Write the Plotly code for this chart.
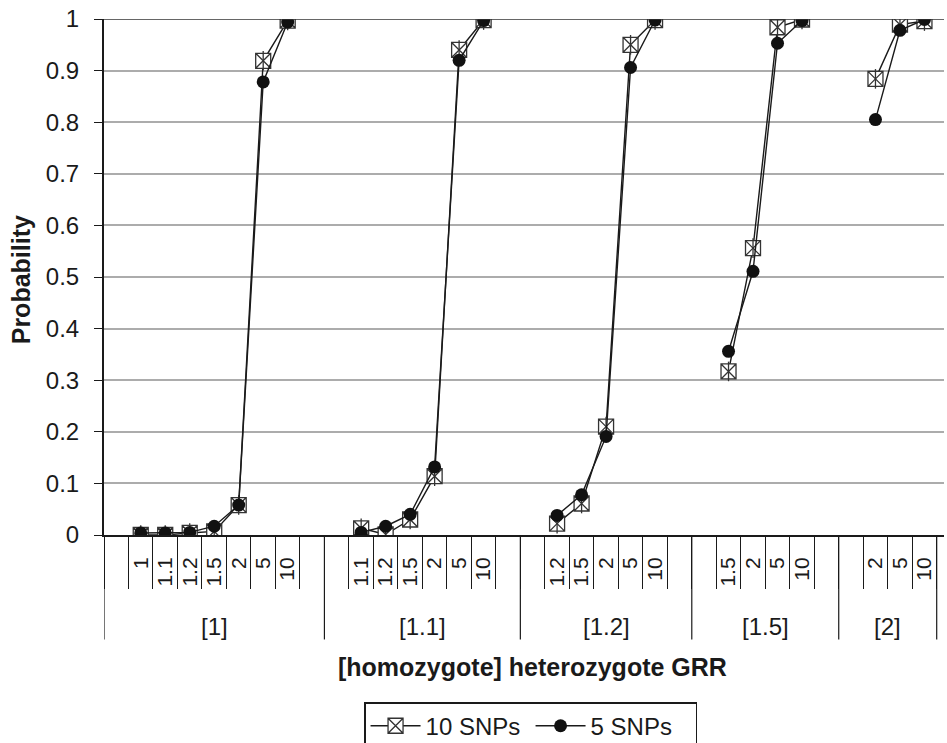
import plotly.graph_objects as go

# ---- data ----
groups = ["[1]", "[1.1]", "[1.2]", "[1.5]", "[2]"]
inner_labels = [
    ["1", "1.1", "1.2", "1.5", "2", "5", "10"],
    ["1.1", "1.2", "1.5", "2", "5", "10"],
    ["1.2", "1.5", "2", "5", "10"],
    ["1.5", "2", "5", "10"],
    ["2", "5", "10"],
]
snp10 = [
    [0.0, 0.0, 0.004, 0.007, 0.058, 0.919, 0.997],
    [0.013, 0.001, 0.03, 0.114, 0.94, 0.998],
    [0.022, 0.061, 0.21, 0.95, 0.998],
    [0.317, 0.556, 0.984, 0.999],
    [0.884, 0.989, 0.996],
]
snp5 = [
    [0.004, 0.004, 0.005, 0.017, 0.058, 0.878, 0.994],
    [0.005, 0.017, 0.04, 0.132, 0.92, 0.997],
    [0.038, 0.078, 0.191, 0.906, 0.998],
    [0.356, 0.511, 0.953, 0.997],
    [0.805, 0.978, 0.999],
]

# ---- category slot layout (blank slot before each group, after all but last) ----
tickvals, ticktext = [], []
group_bounds, group_centers = [-0.5], []
pos = 0
for gi, labs in enumerate(inner_labels):
    start = pos - 0.5
    pos += 1  # leading blank slot
    for lab in labs:
        tickvals.append(pos)
        ticktext.append(lab)
        pos += 1
    if gi < len(inner_labels) - 1:
        pos += 1  # trailing blank slot
    end = pos - 0.5
    group_bounds.append(end)
    group_centers.append((start + end) / 2)
n_slots = pos
slot_bounds = [k - 0.5 for k in range(n_slots + 1)]


def series(vals):
    x, y = [], []
    i = 0
    for gi, labs in enumerate(inner_labels):
        for j in range(len(labs)):
            x.append(tickvals[i])
            y.append(vals[gi][j])
            i += 1
        x.append(None)
        y.append(None)
    return x, y


x10, y10 = series(snp10)
x5, y5 = series(snp5)

fig = go.Figure()
fig.add_trace(go.Scatter(
    x=x10, y=y10, name="10 SNPs", mode="lines+markers", connectgaps=False,
    line=dict(color="#1a1a1a", width=1.4),
    marker=dict(symbol="square-x", size=15, color="white",
                line=dict(color="#333333", width=1.3)),
))
fig.add_trace(go.Scatter(
    x=x10, y=y10, name="10 SNPs", mode="markers", showlegend=False,
    hoverinfo="skip",
    marker=dict(symbol="line-ns", size=14, line=dict(color="#333333", width=1.3)),
))
fig.add_trace(go.Scatter(
    x=x5, y=y5, name="5 SNPs", mode="lines+markers", connectgaps=False,
    line=dict(color="#1a1a1a", width=1.4),
    marker=dict(symbol="circle", size=13, color="#111111"),
))

FONT = "Liberation Sans, Arial, sans-serif"
W, H = 947, 743
# plot-area geometry in screenshot pixels
top_px, bottom_px, left_px, right_px = 19.3, 535.5, 104.3, 944
ph = bottom_px - top_px
plot_w = right_px - left_px
slot_w = (936.7 - left_px) / n_slots
x_max = n_slots - 0.5 + (right_px - 936.7) / slot_w


def py(pix):
    return (bottom_px - pix) / ph


def px(pix):
    return (pix - left_px) / plot_w


shapes = []
for b in group_bounds:
    shapes.append(dict(type="line", xref="x", yref="paper", x0=b, x1=b,
                       y0=0, y1=py(640), line=dict(color="#1a1a1a", width=1.2)))
shapes.append(dict(type="line", xref="paper", yref="y", x0=0, x1=1, y0=1, y1=1,
                   line=dict(color="#333333", width=1.4)))

annotations = []
for g, c in zip(groups, group_centers):
    annotations.append(dict(text=g, x=c, xref="x", y=py(626.7), yref="paper",
                            showarrow=False, xanchor="center", yanchor="middle",
                            font=dict(family=FONT, size=24, color="#1a1a1a")))
annotations.append(dict(text="<b>[homozygote] heterozygote GRR</b>",
                        x=px(533), xref="paper", y=py(667.5), yref="paper",
                        showarrow=False, xanchor="center", yanchor="middle",
                        font=dict(family=FONT, size=25, color="#1a1a1a")))
annotations.append(dict(text="<b>Probability</b>", x=0, xref="paper", xshift=21 - left_px,
                        y=py(280), yref="paper", textangle=-90, showarrow=False,
                        xanchor="center", yanchor="middle", borderpad=0,
                        font=dict(family=FONT, size=25, color="#1a1a1a")))

fig.update_layout(
    width=W, height=H,
    margin=dict(l=left_px, r=W - right_px, t=top_px,
                b=H - bottom_px, autoexpand=False),
    paper_bgcolor="white", plot_bgcolor="white",
    font=dict(family=FONT, color="#1a1a1a"),
    showlegend=True,
    legend=dict(orientation="h", x=px(531), xanchor="center",
                y=py(703), yanchor="top", bordercolor="#1a1a1a", borderwidth=1.2,
                font=dict(family=FONT, size=24, color="#1a1a1a"),
                itemwidth=50, entrywidth=100, tracegroupgap=0),
    xaxis=dict(range=[-0.5, x_max], tickmode="array", tickvals=tickvals,
               ticktext=ticktext, tickangle=-90, ticks="",
               ticklabelstandoff=12, automargin=False,
               tickfont=dict(family=FONT, size=21, color="#1a1a1a"),
               showgrid=False, zeroline=False, showline=True,
               linecolor="#1a1a1a", linewidth=2,
               minor=dict(tickmode="array", tickvals=slot_bounds, ticks="outside",
                          ticklen=52, tickwidth=1.2, tickcolor="#1a1a1a",
                          showgrid=False)),
    yaxis=dict(range=[0, 1], dtick=0.1, tick0=0, ticks="outside", ticklen=8,
               tickwidth=1.2, tickcolor="#1a1a1a", showline=True,
               linecolor="#1a1a1a", linewidth=2, zeroline=False,
               showgrid=True, gridcolor="#acacac", gridwidth=1.5,
               ticklabelstandoff=10, automargin=False, ticklabeloverflow="allow",
               tickfont=dict(family=FONT, size=24, color="#1a1a1a")),
    shapes=shapes, annotations=annotations,
)

fig.write_html("out.html",
               config={"displayModeBar": False},
               post_script="document.body.style.margin='0';"
                           "document.body.style.overflow='hidden';")
